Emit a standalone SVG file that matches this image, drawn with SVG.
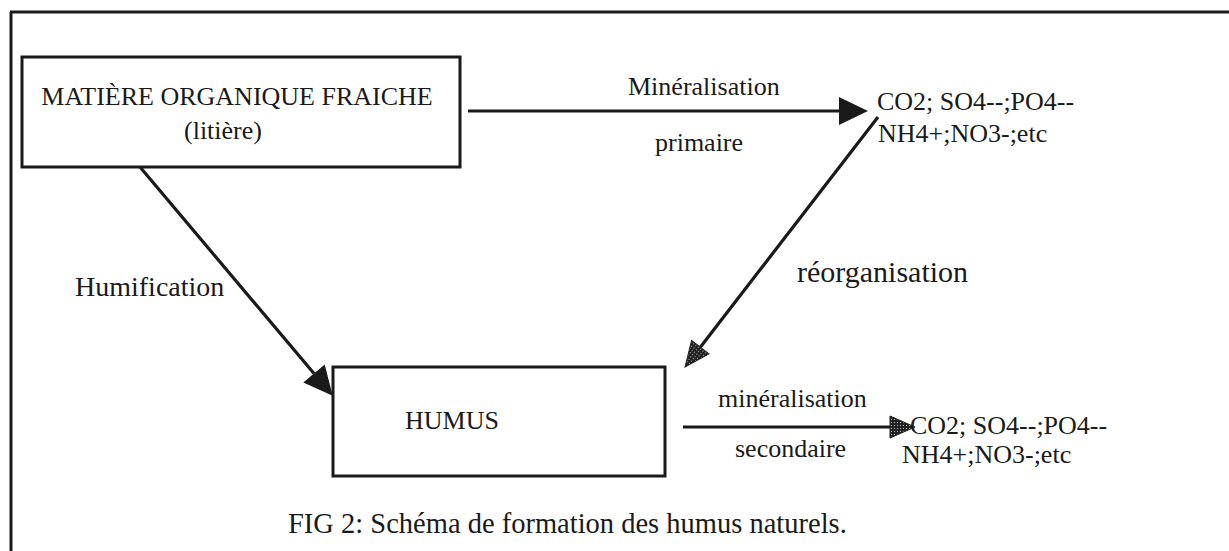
<svg xmlns="http://www.w3.org/2000/svg" width="1229" height="551" viewBox="0 0 1229 551">
<style>
text{font-family:"Liberation Serif","Times New Roman",serif;font-size:26px;fill:#1a1a1a}
.big{font-size:30px}
.mid{font-size:28px}
.cap{font-size:28.5px}
.box{fill:#fff;stroke:#1a1a1a;stroke-width:3}
.edge{stroke:#1a1a1a;stroke-width:3.2;fill:none}
.frame{stroke:#1a1a1a;stroke-width:3;fill:none}
</style>
<defs>
<pattern id="dots" width="3" height="3" patternUnits="userSpaceOnUse">
<rect width="3" height="3" fill="#222"/>
<rect x="1" y="1" width="1" height="1" fill="#bbb"/>
</pattern>
<marker id="headBlack" markerUnits="userSpaceOnUse" orient="auto" viewBox="0 -15 30 30" refX="0" refY="0" markerWidth="30" markerHeight="30" overflow="visible">
<path d="M0,-14 L29,0 L0,14 Z" fill="#1a1a1a"/>
</marker>
<marker id="headDot" markerUnits="userSpaceOnUse" orient="auto" viewBox="0 -12 26 24" refX="0" refY="0" markerWidth="26" markerHeight="24" overflow="visible">
<path d="M0,-11 L25,0 L0,11 Z" fill="url(#dots)" stroke="#222" stroke-width="1"/>
</marker>
</defs>
<g id="frame">
<path class="frame" d="M10,12 H1229 M11,12 V551"/>
</g>
<g id="connectors">
<line id="e-mineralisation-primaire" class="edge" x1="468" y1="111" x2="839" y2="111" marker-end="url(#headBlack)"/>
<line id="e-humification" class="edge" x1="140" y1="167" x2="314" y2="373.5" marker-end="url(#headBlack)"/>
<line id="e-reorganisation" class="edge" x1="878" y1="117" x2="700.3" y2="347.2" marker-end="url(#headDot)"/>
<line id="e-mineralisation-secondaire" class="edge" x1="683" y1="427" x2="890" y2="427" marker-end="url(#headDot)"/>
<text x="628" y="95">Minéralisation</text>
<text x="655" y="151">primaire</text>
<text class="big" x="797" y="282">réorganisation</text>
<text class="mid" x="75" y="296">Humification</text>
<text x="718" y="407">minéralisation</text>
<text x="735" y="457">secondaire</text>
</g>
<g id="node-matiere">
<rect class="box" x="22" y="57" width="438" height="110"/>
<text x="237" y="105" text-anchor="middle">MATIÈRE ORGANIQUE FRAICHE</text>
<text x="223" y="139" text-anchor="middle">(litière)</text>
</g>
<g id="node-mineraux1">
<text x="877" y="110">CO2; SO4--;PO4--</text>
<text x="878" y="142">NH4+;NO3-;etc</text>
</g>
<g id="node-humus">
<rect class="box" x="333" y="367" width="332" height="109"/>
<text x="405" y="429">HUMUS</text>
</g>
<g id="node-mineraux2">
<text x="910" y="434">CO2; SO4--;PO4--</text>
<text x="902" y="463">NH4+;NO3-;etc</text>
</g>
<g id="caption">
<text class="cap" x="288" y="533">FIG 2: Schéma de formation des humus naturels.</text>
</g>
</svg>
